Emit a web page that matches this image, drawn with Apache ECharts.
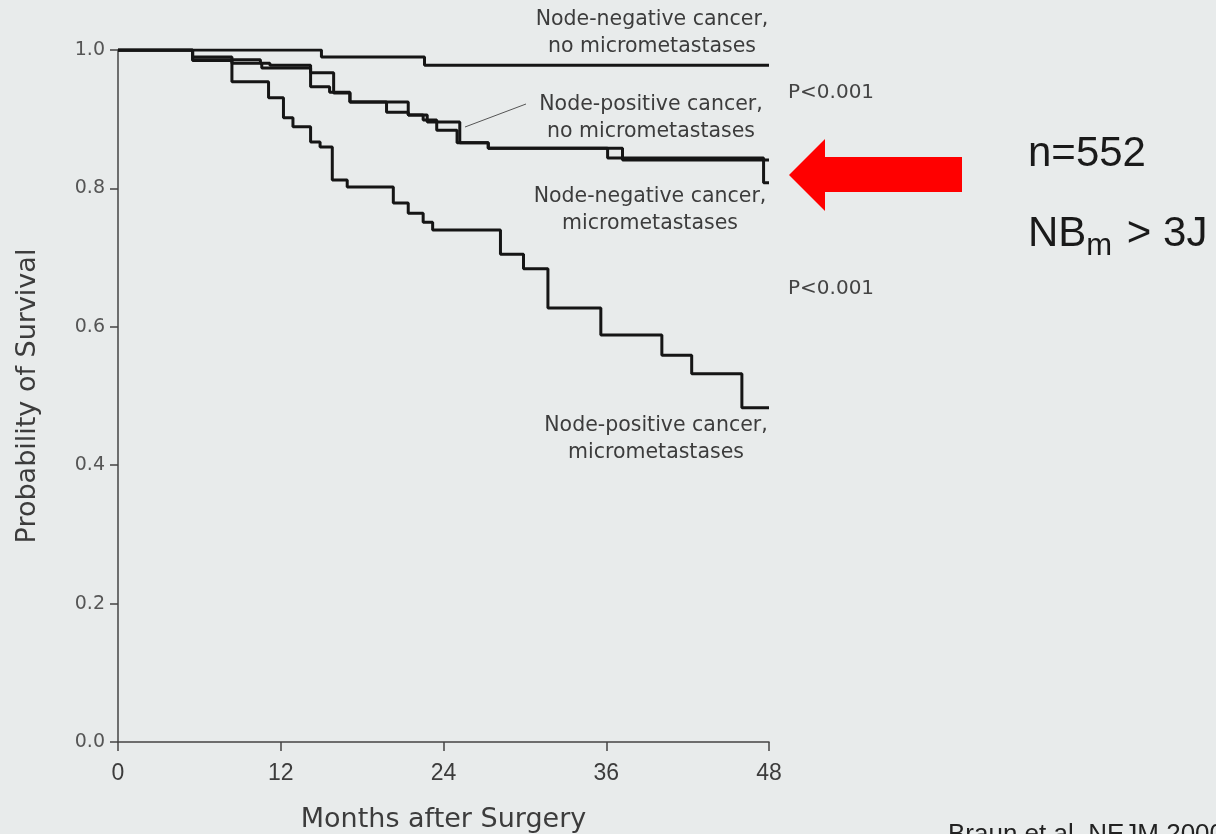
<!DOCTYPE html>
<html>
<head>
<meta charset="utf-8">
<script src="https://cdn.jsdelivr.net/npm/echarts@6/dist/echarts.min.js"></script>
<style>
  html, body { margin: 0; padding: 0; background: #e8ebeb; }
  #chart { width: 1216px; height: 834px; }
</style>
</head>
<body>
<div id="chart"></div>
<script>
// Kaplan-Meier survival estimates (months after surgery, probability of survival)
const nodeNegNoMicroT = [0, 15.0, 22.6, 48];
const nodeNegNoMicroS = [1.0, 0.990, 0.978, 0.978];

const nodePosNoMicroT = [0, 5.5, 8.4, 10.5, 11.2, 14.2, 15.9, 17.1, 21.4, 22.8, 25.2, 27.3, 37.2, 48];
const nodePosNoMicroS = [1.0, 0.990, 0.986, 0.981, 0.978, 0.967, 0.938, 0.925, 0.906, 0.896, 0.866, 0.858, 0.841, 0.841];

const nodeNegMicroT = [0, 5.5, 8.4, 10.6, 14.2, 15.6, 17.1, 19.8, 21.4, 22.5, 23.5, 25.0, 27.3, 36.1, 47.6, 48];
const nodeNegMicroS = [1.0, 0.986, 0.981, 0.974, 0.947, 0.939, 0.925, 0.910, 0.906, 0.899, 0.884, 0.866, 0.858, 0.844, 0.808, 0.808];

const nodePosMicroT = [0, 5.5, 8.4, 11.1, 12.2, 12.9, 14.2, 14.9, 15.8, 16.9, 20.3, 21.4, 22.5, 23.2, 28.2, 29.9, 31.7, 35.6, 40.1, 42.3, 46.0, 48];
const nodePosMicroS = [1.0, 0.985, 0.954, 0.931, 0.902, 0.889, 0.867, 0.860, 0.812, 0.802, 0.779, 0.764, 0.751, 0.740, 0.705, 0.684, 0.627, 0.588, 0.559, 0.532, 0.483, 0.483];

const xTicks = [0, 12, 24, 36, 48];
const yTicks = [0, 0.2, 0.4, 0.6, 0.8, 1.0];

const pValues = ['P<0.001', 'P<0.001'];
const curveLabels = [
  'Node-negative cancer,\nno micrometastases',
  'Node-positive cancer,\nno micrometastases',
  'Node-negative cancer,\nmicrometastases',
  'Node-positive cancer,\nmicrometastases'
];
const sampleSize = 'n=552';

const zip = (t, s) => t.map((v, i) => [v, s[i]]);

const chart = echarts.init(document.getElementById('chart'), null, { renderer: 'canvas' });

const ink = '#151515';
const textInk = '#3c3c3c';
const sans = '"Liberation Sans", Arial, sans-serif';
const wide = '"DejaVu Sans", sans-serif';
const narrow = '"Liberation Sans Narrow", "Liberation Sans", sans-serif';

function curve(name, t, s) {
  return {
    name: name,
    type: 'line',
    step: 'end',
    data: zip(t, s),
    symbol: 'none',
    lineStyle: { color: ink, width: 3 },
    z: 3
  };
}

function caption(text, x, y) {
  return {
    type: 'text', x: x, y: y,
    style: { text: text, align: 'center', fill: textInk, font: '20.5px ' + wide, lineHeight: 27 }
  };
}

chart.setOption({
  backgroundColor: '#e8ebeb',
  animation: false,
  grid: { left: 118, right: 447, top: 50, bottom: 92, containLabel: false, outerBoundsMode: 'none' },
  xAxis: {
    type: 'value',
    min: 0, max: 48, interval: 12,
    name: 'Months after Surgery',
    nameLocation: 'middle',
    nameGap: 64,
    nameTextStyle: { fontFamily: wide, fontSize: 27, color: textInk },
    axisLine: { lineStyle: { color: '#444', width: 1.5 } },
    axisTick: { show: true, length: 9, lineStyle: { color: '#444', width: 1.5 } },
    axisLabel: {
      margin: 20, fontFamily: narrow, fontSize: 23, color: textInk,
      formatter: v => xTicks.includes(v) ? String(v) : ''
    },
    splitLine: { show: false }
  },
  yAxis: {
    type: 'value',
    min: 0, max: 1, interval: 0.2,
    name: 'Probability of Survival',
    nameLocation: 'middle',
    nameGap: 77,
    nameTextStyle: { fontFamily: wide, fontSize: 27, color: textInk },
    axisLine: { show: true, lineStyle: { color: '#444', width: 1.5 } },
    axisTick: { show: true, length: 8, lineStyle: { color: '#444', width: 1.5 } },
    axisLabel: {
      margin: 13, fontFamily: wide, fontSize: 19, color: '#555',
      formatter: v => yTicks.some(y => Math.abs(y - v) < 1e-9) ? v.toFixed(1) : ''
    },
    splitLine: { show: false }
  },
  series: [
    curve('Node-negative cancer, no micrometastases', nodeNegNoMicroT, nodeNegNoMicroS),
    curve('Node-positive cancer, no micrometastases', nodePosNoMicroT, nodePosNoMicroS),
    curve('Node-negative cancer, micrometastases', nodeNegMicroT, nodeNegMicroS),
    curve('Node-positive cancer, micrometastases', nodePosMicroT, nodePosMicroS)
  ],
  graphic: [
    // curve captions
    caption(curveLabels[0], 652, 6),
    caption(curveLabels[1], 651, 91),
    caption(curveLabels[2], 650, 183),
    caption(curveLabels[3], 656, 412),
    // leader from caption to its curve
    { type: 'line', shape: { x1: 465, y1: 127, x2: 526, y2: 104 }, style: { stroke: '#555', lineWidth: 1 } },
    // significance notes
    { type: 'text', x: 788, y: 83, style: { text: pValues[0], fill: '#444', font: '20px ' + wide } },
    { type: 'text', x: 788, y: 279, style: { text: pValues[1], fill: '#444', font: '20px ' + wide } },
    // red arrow
    { type: 'polygon', shape: { points: [[789, 175], [825, 139], [825, 157], [962, 157], [962, 192], [825, 192], [825, 211]] }, style: { fill: '#ff0000' } },
    // sample notes
    { type: 'text', x: 1028, y: 133, style: { text: sampleSize, fill: '#1a1a1a', font: '42px ' + sans } },
    { type: 'text', x: 1028, y: 213, style: {
        text: '{b|NB}{s|m}{b| > 3J}',
        rich: {
          b: { fill: '#1a1a1a', font: '42px ' + sans, verticalAlign: 'top' },
          s: { fill: '#1a1a1a', font: '31px ' + sans, verticalAlign: 'top', padding: [18, 3, 0, 0] }
        }
      } },
    // citation at the bottom edge
    { type: 'text', x: 948, y: 822, style: { text: 'Braun et al. NEJM 2000', fill: '#222', font: '26px ' + sans } }
  ]
});
</script>
</body>
</html>
